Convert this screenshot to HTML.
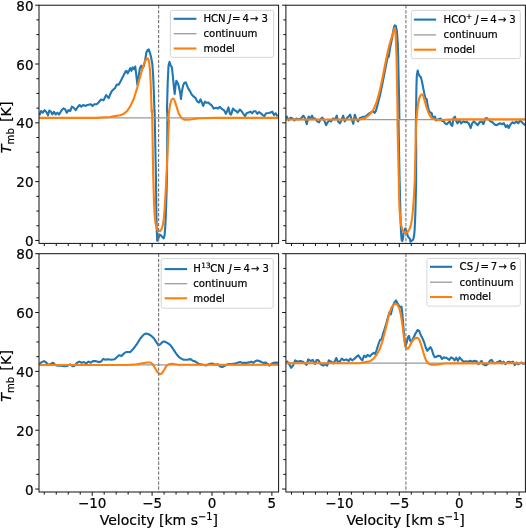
<!DOCTYPE html>
<html><head><meta charset="utf-8"><title>Spectra</title>
<style>
html,body{margin:0;padding:0;background:#fff;}
svg{display:block;}
text{font-family:"DejaVu Sans","Liberation Sans",sans-serif;fill:#000;stroke:#000;stroke-width:0.2px;}
</style></head><body>
<svg width="526" height="528" viewBox="0 0 526 528">
<rect width="526" height="528" fill="#fff"/>
<clipPath id="c1"><rect x="39.0" y="5.2" width="239.6" height="238.2"/></clipPath>
<path d="M44.28 243.40v2.6M56.26 243.40v2.6M68.24 243.40v2.6M80.22 243.40v2.6M92.20 243.40v3.8M104.18 243.40v2.6M116.16 243.40v2.6M128.14 243.40v2.6M140.12 243.40v2.6M152.10 243.40v3.8M164.08 243.40v2.6M176.06 243.40v2.6M188.04 243.40v2.6M200.02 243.40v2.6M212.00 243.40v3.8M223.98 243.40v2.6M235.96 243.40v2.6M247.94 243.40v2.6M259.92 243.40v2.6M271.90 243.40v3.8M39.00 240.46h-3.8M39.00 225.76h-2.6M39.00 211.05h-2.6M39.00 196.35h-2.6M39.00 181.64h-3.8M39.00 166.94h-2.6M39.00 152.24h-2.6M39.00 137.53h-2.6M39.00 122.83h-3.8M39.00 108.13h-2.6M39.00 93.42h-2.6M39.00 78.72h-2.6M39.00 64.01h-3.8M39.00 49.31h-2.6M39.00 34.61h-2.6M39.00 19.90h-2.6M39.00 5.20h-3.8" stroke="#111" stroke-width="1.0" fill="none"/>
<g clip-path="url(#c1)" fill="none" stroke-linejoin="round" stroke-linecap="butt">
<polyline points="39.4,115.3 41.1,111.0 42.8,112.7 44.6,110.2 46.3,111.9 48.0,115.3 49.3,110.5 51.1,111.9 52.3,114.4 54.0,111.9 55.7,114.4 57.4,112.7 59.1,114.4 61.7,110.2 63.4,108.4 65.1,109.3 66.8,112.7 68.5,110.2 70.2,111.0 71.9,106.7 73.6,107.6 75.7,110.2 77.9,106.7 79.6,105.0 81.3,106.7 83.1,105.0 85.6,105.9 87.3,105.0 90.8,104.2 92.5,105.9 94.2,104.2 96.7,104.2 98.5,102.5 101.0,99.5 103.6,100.2 106.2,95.1 108.7,98.2 110.0,94.8 111.7,91.3 113.4,89.6 115.1,87.9 116.8,84.5 118.6,84.8 120.3,81.9 122.0,78.5 123.7,75.1 125.4,71.7 126.6,70.8 127.6,73.4 129.2,70.5 130.2,68.2 131.4,70.8 132.6,67.4 134.0,69.1 135.2,66.5 136.2,74.2 137.4,84.8 138.6,76.8 139.9,68.2 141.3,65.7 142.5,68.2 143.7,66.5 145.1,60.5 146.3,52.8 147.6,49.9 148.8,49.4 149.9,52.8 151.1,57.1 152.3,64.0 153.1,74.2 153.8,91.3 154.5,111.9 154.6,110.0 155.9,175.0 156.2,194.9 156.4,214.7 156.7,228.0 157.0,235.9 157.2,240.8 157.9,239.9 158.9,236.6 159.9,234.6 160.9,235.3 162.3,237.0 163.6,238.3 164.5,235.9 165.2,228.0 165.7,217.4 166.2,204.1 166.6,190.9 167.0,175.0 167.4,116.6 167.0,108.4 167.7,82.8 168.5,65.7 169.5,61.9 170.7,65.7 171.9,67.4 173.0,77.6 173.8,86.2 174.7,93.9 175.5,86.2 176.4,80.7 177.6,82.8 178.8,86.2 180.2,93.0 181.0,99.0 181.9,91.3 183.2,85.3 184.4,82.8 185.8,82.4 187.0,85.3 188.4,88.8 190.0,91.1 191.7,94.6 193.5,96.4 195.2,97.6 197.3,101.6 199.1,102.5 200.5,99.3 201.9,102.5 203.1,106.0 204.9,101.6 206.6,102.8 208.4,102.5 210.1,104.2 211.9,105.6 213.6,108.6 216.2,107.7 218.0,108.6 219.7,106.8 221.5,108.6 224.1,110.3 225.9,113.8 227.1,111.2 228.5,107.4 229.9,113.8 231.1,114.7 232.9,108.6 234.6,110.3 236.4,111.2 237.6,112.6 239.9,109.5 241.6,111.2 243.3,113.8 245.1,116.1 246.8,113.0 248.6,112.6 250.3,111.6 252.1,113.3 253.8,111.2 255.6,111.2 257.3,113.8 259.1,112.1 260.8,113.3 262.6,115.1 264.3,116.1 266.1,113.3 268.7,113.0 270.5,112.6 272.2,111.6 274.0,115.1 275.7,113.3 277.5,116.5" stroke="#1f77b4" stroke-width="2.1"/>
<path d="M39.0 117.9H278.6" stroke="#9a9a9a" stroke-width="1.3"/>
<polyline points="39.0,117.9 96.0,117.9 104.4,117.4 110.0,117.0 115.1,116.1 120.3,115.3 123.7,113.9 127.1,111.0 130.5,105.9 134.0,98.2 137.4,87.1 140.8,74.2 143.4,65.7 145.1,61.4 146.8,58.8 148.0,58.5 149.0,61.4 149.9,69.1 150.6,81.1 151.1,94.8 151.6,111.9 152.1,110.0 153.2,175.0 153.6,188.2 154.0,201.5 154.6,214.7 155.6,224.0 157.0,229.3 158.5,231.3 159.9,231.3 161.5,229.3 162.8,225.3 163.8,218.7 164.6,209.4 165.4,196.2 166.0,185.6 166.5,175.0 169.0,120.0 168.2,120.4 169.0,111.9 170.2,104.2 171.6,99.5 173.0,98.5 174.2,99.5 175.5,103.3 177.1,108.4 178.4,112.7 180.2,116.1 181.9,118.4 184.4,119.6 187.9,119.7 192.1,119.2 195.6,118.7 200.0,118.2 215.0,117.9 279.2,117.9" stroke="#ff7f0e" stroke-width="2.1"/>
<path d="M158.6 5.2V243.4" stroke="#7a7a7a" stroke-width="1.15" stroke-dasharray="3.3 1.65"/>
</g>
<rect x="39.0" y="5.2" width="239.6" height="238.2" fill="none" stroke="#111" stroke-width="1.0"/>
<text x="33.5" y="246.0" text-anchor="end" font-size="13.5">0</text>
<text x="33.5" y="187.1" text-anchor="end" font-size="13.5">20</text>
<text x="33.5" y="128.3" text-anchor="end" font-size="13.5">40</text>
<text x="33.5" y="69.5" text-anchor="end" font-size="13.5">60</text>
<text x="33.5" y="10.7" text-anchor="end" font-size="13.5">80</text>
<text transform="translate(10.9 127.3) rotate(-90)" text-anchor="middle" font-size="14.4"><tspan font-style="italic">T</tspan><tspan font-size="10.1" dy="2.6">mb</tspan><tspan dy="-2.6" dx="1.6"> [K]</tspan></text>
<rect x="170.4" y="10.4" width="103.3" height="46.9" rx="2" ry="2" fill="#fff" fill-opacity="0.8" stroke="#ccc" stroke-opacity="0.8" stroke-width="1"/>
<path d="M173.70000000000002 18.8H196.4" stroke="#1f77b4" stroke-width="2.1"/>
<path d="M173.70000000000002 33.7H196.4" stroke="#9a9a9a" stroke-width="1.3"/>
<path d="M173.70000000000002 48.5H196.4" stroke="#ff7f0e" stroke-width="2.1"/>
<text x="203.4" y="22.1" font-size="10.15">HCN<tspan x="228.50" font-style="italic">J</tspan><tspan x="232.10">=</tspan><tspan x="242.45">4</tspan><tspan x="250.10">→</tspan><tspan x="261.40">3</tspan></text>
<text x="203.4" y="37.0" font-size="10.15">continuum</text>
<text x="203.4" y="51.8" font-size="10.15">model</text>
<clipPath id="c2"><rect x="285.9" y="5.2" width="239.5" height="238.2"/></clipPath>
<path d="M291.48 243.40v2.6M303.46 243.40v2.6M315.44 243.40v2.6M327.42 243.40v2.6M339.40 243.40v3.8M351.38 243.40v2.6M363.36 243.40v2.6M375.34 243.40v2.6M387.32 243.40v2.6M399.30 243.40v3.8M411.28 243.40v2.6M423.26 243.40v2.6M435.24 243.40v2.6M447.22 243.40v2.6M459.20 243.40v3.8M471.18 243.40v2.6M483.16 243.40v2.6M495.14 243.40v2.6M507.12 243.40v2.6M519.10 243.40v3.8M285.90 240.46h-3.8M285.90 225.76h-2.6M285.90 211.05h-2.6M285.90 196.35h-2.6M285.90 181.64h-3.8M285.90 166.94h-2.6M285.90 152.24h-2.6M285.90 137.53h-2.6M285.90 122.83h-3.8M285.90 108.13h-2.6M285.90 93.42h-2.6M285.90 78.72h-2.6M285.90 64.01h-3.8M285.90 49.31h-2.6M285.90 34.61h-2.6M285.90 19.90h-2.6M285.90 5.20h-3.8" stroke="#111" stroke-width="1.0" fill="none"/>
<g clip-path="url(#c2)" fill="none" stroke-linejoin="round" stroke-linecap="butt">
<polyline points="286.0,119.5 286.8,116.6 288.7,120.4 290.6,117.6 292.5,118.5 294.4,120.4 296.3,118.5 298.2,119.5 301.0,118.5 303.3,115.7 305.2,118.5 306.7,124.2 308.6,116.6 310.5,118.5 312.0,115.7 313.4,118.5 315.3,118.5 317.2,121.4 319.1,122.3 321.0,118.5 322.3,117.6 324.2,120.4 326.1,125.2 327.6,122.3 329.5,120.4 331.0,121.4 333.0,118.5 334.9,119.5 336.8,115.7 338.1,121.4 340.0,123.3 341.3,120.4 343.2,115.7 344.7,121.4 346.6,118.5 348.5,116.6 350.1,114.7 351.4,118.5 353.3,123.8 354.8,114.7 356.1,118.5 358.0,121.4 360.0,118.0 363.4,116.8 365.0,116.7 368.1,114.2 370.8,112.5 372.9,111.0 374.6,112.9 375.8,111.2 377.5,105.0 380.0,95.2 382.5,83.3 385.0,70.2 387.5,57.7 388.8,56.7 390.0,48.3 391.5,41.0 392.9,33.3 394.0,27.1 394.8,25.4 395.8,26.0 396.9,31.2 397.7,42.1 398.2,56.7 398.6,77.5 399.1,98.3 399.4,119.2 398.5,120.0 399.6,180.0 400.1,199.9 400.5,217.1 400.9,229.0 401.3,235.6 401.7,240.3 402.3,240.9 403.0,238.3 403.6,233.0 404.6,229.7 405.5,228.3 406.3,230.3 407.0,233.0 407.9,236.3 408.9,237.6 409.9,238.9 410.4,241.6 411.2,241.2 412.1,240.3 413.2,239.6 414.1,235.6 414.6,230.3 415.0,222.4 415.4,211.8 415.7,199.9 416.0,187.9 416.1,180.0 416.2,150.0 415.8,130.0 416.1,110.6 416.4,87.9 416.8,75.8 417.7,70.5 418.6,74.2 419.7,76.1 420.9,77.3 422.0,81.8 423.2,87.9 424.4,93.9 425.5,98.5 426.7,99.2 427.7,106.1 428.9,110.6 430.2,112.4 431.5,112.9 432.6,116.7 433.8,117.4 435.0,116.7 436.1,120.5 437.6,119.7 439.1,118.9 440.6,118.5 442.1,120.9 443.6,121.2 445.2,123.5 446.7,124.2 448.2,122.7 449.7,121.2 451.2,125.0 452.3,125.8 453.5,118.2 455.0,116.7 456.0,120.4 457.4,123.3 459.3,120.4 461.2,123.3 463.1,121.4 465.0,122.3 466.9,121.9 468.8,123.3 470.7,128.0 472.2,123.3 473.9,121.4 475.8,123.3 477.7,125.2 479.6,122.3 481.5,121.4 483.4,124.2 485.3,118.5 486.8,118.1 488.7,119.5 490.6,121.4 492.5,122.3 494.4,124.2 496.3,125.2 498.2,124.2 500.1,123.3 502.0,124.2 503.9,123.3 505.8,127.1 507.4,125.2 508.7,128.0 510.6,124.2 512.5,122.3 514.4,123.3 516.3,121.4 518.2,123.3 520.1,120.4 522.0,122.3 523.9,124.2 525.2,125.2" stroke="#1f77b4" stroke-width="2.1"/>
<path d="M285.9 119.7H525.4" stroke="#9a9a9a" stroke-width="1.3"/>
<polyline points="286.0,119.5 358.0,119.5 360.0,119.5 364.5,118.0 365.0,118.1 369.2,115.0 373.3,109.8 376.5,102.5 379.2,93.1 381.7,81.7 384.2,69.2 386.9,55.6 389.6,44.2 392.1,35.8 393.8,30.6 394.8,27.9 395.4,30.6 396.0,42.1 396.5,56.7 396.9,77.5 397.3,98.3 397.6,119.2 397.4,120.0 398.8,180.0 399.0,193.2 399.4,206.5 400.1,217.1 401.1,225.0 402.6,230.3 404.3,232.7 405.9,233.2 407.6,232.3 409.3,229.7 410.9,225.0 412.1,218.4 413.0,209.1 413.8,198.5 414.4,187.9 414.8,180.0 415.9,130.0 416.5,119.7 417.1,112.1 418.0,104.5 419.2,98.5 420.6,95.2 422.0,94.4 423.2,95.9 424.7,100.8 426.2,106.1 427.7,110.6 429.2,114.4 431.1,117.4 433.0,118.9 435.3,119.7 439.8,120.0 455.0,119.4 526.0,119.4" stroke="#ff7f0e" stroke-width="2.1"/>
<path d="M405.9 5.2V243.4" stroke="#7a7a7a" stroke-width="1.15" stroke-dasharray="3.3 1.65"/>
</g>
<rect x="285.9" y="5.2" width="239.5" height="238.2" fill="none" stroke="#111" stroke-width="1.0"/>
<rect x="411.3" y="10.4" width="109.0" height="48.2" rx="2" ry="2" fill="#fff" fill-opacity="0.8" stroke="#ccc" stroke-opacity="0.8" stroke-width="1"/>
<path d="M413.9 19.6H436.1" stroke="#1f77b4" stroke-width="2.1"/>
<path d="M413.9 34.9H436.1" stroke="#9a9a9a" stroke-width="1.3"/>
<path d="M413.9 49.7H436.1" stroke="#ff7f0e" stroke-width="2.1"/>
<text x="443.6" y="22.9" font-size="10.15">HCO<tspan x="466.0" font-size="7.3" dy="-4.4">+</tspan><tspan x="475.70" dy="4.4" font-style="italic">J</tspan><tspan x="480.00">=</tspan><tspan x="490.35">4</tspan><tspan x="498.00">→</tspan><tspan x="509.30">3</tspan></text>
<text x="443.6" y="38.2" font-size="10.15">continuum</text>
<text x="443.6" y="53.0" font-size="10.15">model</text>
<clipPath id="c3"><rect x="39.0" y="253.7" width="239.6" height="238.3"/></clipPath>
<path d="M44.28 492.00v2.6M56.26 492.00v2.6M68.24 492.00v2.6M80.22 492.00v2.6M92.20 492.00v3.8M104.18 492.00v2.6M116.16 492.00v2.6M128.14 492.00v2.6M140.12 492.00v2.6M152.10 492.00v3.8M164.08 492.00v2.6M176.06 492.00v2.6M188.04 492.00v2.6M200.02 492.00v2.6M212.00 492.00v3.8M223.98 492.00v2.6M235.96 492.00v2.6M247.94 492.00v2.6M259.92 492.00v2.6M271.90 492.00v3.8M39.00 489.06h-3.8M39.00 474.35h-2.6M39.00 459.64h-2.6M39.00 444.93h-2.6M39.00 430.22h-3.8M39.00 415.51h-2.6M39.00 400.80h-2.6M39.00 386.09h-2.6M39.00 371.38h-3.8M39.00 356.67h-2.6M39.00 341.96h-2.6M39.00 327.25h-2.6M39.00 312.54h-3.8M39.00 297.83h-2.6M39.00 283.12h-2.6M39.00 268.41h-2.6M39.00 253.70h-3.8" stroke="#111" stroke-width="1.0" fill="none"/>
<g clip-path="url(#c3)" fill="none" stroke-linejoin="round" stroke-linecap="butt">
<polyline points="39.4,363.9 41.7,362.1 44.0,361.1 46.3,362.7 48.5,365.0 50.8,363.9 53.1,362.7 55.4,365.0 57.7,365.7 61.1,365.7 64.5,366.2 67.9,365.7 70.2,364.3 72.5,366.2 74.8,365.7 77.1,362.7 79.3,361.6 81.6,362.7 83.9,362.1 86.2,363.4 88.5,361.6 90.8,362.7 93.0,361.1 95.3,361.1 98.7,362.1 101.0,361.6 103.3,358.9 105.6,359.8 107.9,359.3 111.3,359.8 114.7,359.3 117.0,357.0 119.3,355.2 121.6,355.9 123.8,353.6 126.1,352.0 129.5,352.0 130.0,352.2 133.4,348.8 136.8,344.2 140.3,338.5 143.7,334.6 146.0,333.5 148.3,334.0 151.7,336.2 154.0,338.5 156.2,341.9 158.5,345.4 160.8,343.8 163.1,341.5 165.4,341.9 167.6,343.1 169.9,344.7 172.2,347.6 174.5,351.1 176.8,354.5 179.1,357.2 181.3,358.6 183.6,359.7 187.0,359.7 190.5,359.1 192.7,360.7 195.0,361.3 197.3,362.9 199.6,364.1 203.0,364.8 206.4,365.4 208.7,364.1 212.1,363.6 215.6,364.8 217.8,364.3 220.1,366.4 222.4,367.0 224.7,365.9 227.0,364.8 228.0,364.0 232.0,364.0 236.0,363.3 240.0,362.0 242.6,362.9 246.6,362.9 249.3,362.4 251.3,361.7 253.3,362.9 255.3,361.3 257.3,360.4 259.3,361.0 261.3,362.0 263.3,362.9 265.9,362.6 267.9,364.0 269.3,365.6 271.3,364.0 273.3,362.9 275.9,362.6 278.2,362.9" stroke="#1f77b4" stroke-width="2.1"/>
<path d="M39.0 364.9H278.6" stroke="#9a9a9a" stroke-width="1.3"/>
<polyline points="39.2,365.0 127.3,365.0 130.0,364.8 136.8,364.3 142.5,363.2 147.1,362.5 150.5,362.5 152.8,364.3 155.1,368.2 157.4,372.1 159.7,374.3 161.9,373.4 164.2,369.8 166.5,365.9 168.8,364.3 172.2,363.8 177.9,364.8 250.0,364.8 279.2,364.8" stroke="#ff7f0e" stroke-width="2.1"/>
<path d="M158.6 253.7V492.0" stroke="#7a7a7a" stroke-width="1.15" stroke-dasharray="3.3 1.65"/>
</g>
<rect x="39.0" y="253.7" width="239.6" height="238.3" fill="none" stroke="#111" stroke-width="1.0"/>
<text x="33.5" y="494.6" text-anchor="end" font-size="13.5">0</text>
<text x="33.5" y="435.7" text-anchor="end" font-size="13.5">20</text>
<text x="33.5" y="376.9" text-anchor="end" font-size="13.5">40</text>
<text x="33.5" y="318.0" text-anchor="end" font-size="13.5">60</text>
<text x="33.5" y="259.2" text-anchor="end" font-size="13.5">80</text>
<text transform="translate(10.9 375.9) rotate(-90)" text-anchor="middle" font-size="14.4"><tspan font-style="italic">T</tspan><tspan font-size="10.1" dy="2.6">mb</tspan><tspan dy="-2.6" dx="1.6"> [K]</tspan></text>
<text x="92.2" y="508.2" text-anchor="middle" font-size="13.5">−10</text>
<text x="152.1" y="508.2" text-anchor="middle" font-size="13.5">−5</text>
<text x="212.0" y="508.2" text-anchor="middle" font-size="13.5">0</text>
<text x="271.9" y="508.2" text-anchor="middle" font-size="13.5">5</text>
<text x="158.8" y="525.0" text-anchor="middle" font-size="14.0">Velocity [km s<tspan font-size="9.8" dy="-5">−1</tspan><tspan dy="5">]</tspan></text>
<rect x="161.2" y="258.6" width="112.0" height="49.6" rx="2" ry="2" fill="#fff" fill-opacity="0.8" stroke="#ccc" stroke-opacity="0.8" stroke-width="1"/>
<path d="M164.6 269.1H187.1" stroke="#1f77b4" stroke-width="2.1"/>
<path d="M164.6 283.7H187.1" stroke="#9a9a9a" stroke-width="1.3"/>
<path d="M164.6 298.3H187.1" stroke="#ff7f0e" stroke-width="2.1"/>
<text x="193.3" y="272.4" font-size="10.15">H<tspan x="201.3" font-size="7.3" dy="-4.4">13</tspan><tspan x="210.3" dy="4.4">CN</tspan><tspan x="229.10" font-style="italic">J</tspan><tspan x="233.10">=</tspan><tspan x="243.45">4</tspan><tspan x="251.10">→</tspan><tspan x="262.40">3</tspan></text>
<text x="193.3" y="287.0" font-size="10.15">continuum</text>
<text x="193.3" y="301.6" font-size="10.15">model</text>
<clipPath id="c4"><rect x="285.9" y="253.7" width="239.5" height="238.3"/></clipPath>
<path d="M291.48 492.00v2.6M303.46 492.00v2.6M315.44 492.00v2.6M327.42 492.00v2.6M339.40 492.00v3.8M351.38 492.00v2.6M363.36 492.00v2.6M375.34 492.00v2.6M387.32 492.00v2.6M399.30 492.00v3.8M411.28 492.00v2.6M423.26 492.00v2.6M435.24 492.00v2.6M447.22 492.00v2.6M459.20 492.00v3.8M471.18 492.00v2.6M483.16 492.00v2.6M495.14 492.00v2.6M507.12 492.00v2.6M519.10 492.00v3.8M285.90 489.06h-3.8M285.90 474.35h-2.6M285.90 459.64h-2.6M285.90 444.93h-2.6M285.90 430.22h-3.8M285.90 415.51h-2.6M285.90 400.80h-2.6M285.90 386.09h-2.6M285.90 371.38h-3.8M285.90 356.67h-2.6M285.90 341.96h-2.6M285.90 327.25h-2.6M285.90 312.54h-3.8M285.90 297.83h-2.6M285.90 283.12h-2.6M285.90 268.41h-2.6M285.90 253.70h-3.8" stroke="#111" stroke-width="1.0" fill="none"/>
<g clip-path="url(#c4)" fill="none" stroke-linejoin="round" stroke-linecap="butt">
<polyline points="286.6,361.0 288.8,363.3 291.1,367.8 293.0,365.6 295.2,360.3 297.5,361.7 300.3,361.0 303.0,361.7 304.8,363.3 306.6,364.9 308.2,359.4 310.5,361.0 312.8,359.9 315.1,364.0 316.7,359.9 318.5,360.3 320.8,364.4 323.1,365.6 325.3,364.4 327.2,365.6 328.8,360.3 331.1,361.7 333.3,363.3 334.9,361.0 336.3,358.0 337.9,362.1 340.2,361.0 341.8,358.7 344.1,360.3 346.3,359.4 348.6,361.0 350.4,358.7 352.3,360.3 354.6,358.7 356.8,356.4 358.4,355.3 360.7,358.7 362.3,360.3 364.1,355.7 366.0,357.1 367.6,354.8 369.8,356.4 370.0,356.0 372.1,354.0 373.8,352.9 375.2,354.0 376.7,349.8 378.3,344.6 380.0,340.0 381.5,339.4 382.9,334.2 384.6,329.0 386.2,323.8 387.9,317.5 389.4,312.3 390.8,314.4 392.5,307.1 394.2,302.9 396.0,300.4 397.5,303.3 399.2,306.0 400.4,307.5 401.5,306.7 402.3,313.3 403.3,325.8 404.4,338.3 405.4,346.7 406.7,342.5 407.9,337.3 409.0,335.8 410.0,340.4 411.2,341.5 412.7,339.4 414.2,336.2 415.8,333.1 417.5,330.0 419.2,331.0 420.8,335.2 422.5,338.3 424.2,342.5 425.8,347.7 427.3,350.8 429.0,348.8 430.4,347.1 431.9,349.8 433.1,354.0 434.6,357.1 436.0,357.0 438.1,355.7 440.3,356.0 442.0,359.1 443.7,357.4 445.9,357.7 447.6,358.7 449.3,359.9 451.1,357.4 452.8,358.2 454.5,360.5 456.2,357.7 457.9,360.8 459.6,357.4 461.7,359.9 463.7,361.7 465.9,361.3 468.2,361.7 470.2,360.8 472.3,361.7 474.5,360.8 476.7,361.3 478.4,364.2 480.1,362.5 481.5,360.8 483.1,364.2 484.8,365.1 486.5,365.1 488.2,363.4 489.9,360.8 491.6,359.9 493.3,362.5 495.0,363.4 496.7,362.5 498.5,361.7 500.2,360.8 501.9,363.4 503.6,361.7 505.3,364.2 507.0,362.5 508.7,361.7 510.9,362.5 513.0,361.7 514.7,365.1 516.4,362.5 518.1,364.2 519.8,363.4 521.6,362.5 523.3,363.9 525.0,362.9" stroke="#1f77b4" stroke-width="2.1"/>
<path d="M285.9 363.2H525.4" stroke="#9a9a9a" stroke-width="1.3"/>
<polyline points="286.0,363.3 359.6,363.3 364.1,362.4 370.0,361.2 373.1,359.2 376.2,355.4 379.4,349.8 382.1,342.5 384.6,333.1 387.1,322.7 389.4,313.3 391.5,307.5 393.5,304.6 395.4,303.8 397.3,304.6 399.2,308.1 400.8,314.4 402.3,323.8 403.8,336.2 405.0,344.6 406.5,348.3 407.9,348.8 409.6,346.2 411.7,342.1 413.8,339.4 415.8,337.9 417.9,337.9 419.6,340.4 421.2,345.0 422.9,350.8 424.6,356.7 426.2,360.8 428.3,363.3 430.8,364.6 434.6,364.6 436.0,364.6 439.4,364.1 444.6,363.5 453.1,363.4 526.0,363.2" stroke="#ff7f0e" stroke-width="2.1"/>
<path d="M405.9 253.7V492.0" stroke="#7a7a7a" stroke-width="1.15" stroke-dasharray="3.3 1.65"/>
</g>
<rect x="285.9" y="253.7" width="239.5" height="238.3" fill="none" stroke="#111" stroke-width="1.0"/>
<text x="339.4" y="508.2" text-anchor="middle" font-size="13.5">−10</text>
<text x="399.3" y="508.2" text-anchor="middle" font-size="13.5">−5</text>
<text x="459.2" y="508.2" text-anchor="middle" font-size="13.5">0</text>
<text x="519.1" y="508.2" text-anchor="middle" font-size="13.5">5</text>
<text x="405.6" y="525.0" text-anchor="middle" font-size="14.0">Velocity [km s<tspan font-size="9.8" dy="-5">−1</tspan><tspan dy="5">]</tspan></text>
<rect x="426.9" y="258.4" width="93.4" height="47.7" rx="2" ry="2" fill="#fff" fill-opacity="0.8" stroke="#ccc" stroke-opacity="0.8" stroke-width="1"/>
<path d="M430.0 266.8H452.20000000000005" stroke="#1f77b4" stroke-width="2.1"/>
<path d="M430.0 282.2H452.20000000000005" stroke="#9a9a9a" stroke-width="1.3"/>
<path d="M430.0 297.0H452.20000000000005" stroke="#ff7f0e" stroke-width="2.1"/>
<text x="459.6" y="270.1" font-size="10.15">CS<tspan x="476.20" font-style="italic">J</tspan><tspan x="480.50">=</tspan><tspan x="490.85">7</tspan><tspan x="498.50">→</tspan><tspan x="509.80">6</tspan></text>
<text x="459.6" y="285.5" font-size="10.15">continuum</text>
<text x="459.6" y="300.3" font-size="10.15">model</text>
</svg>
</body></html>
